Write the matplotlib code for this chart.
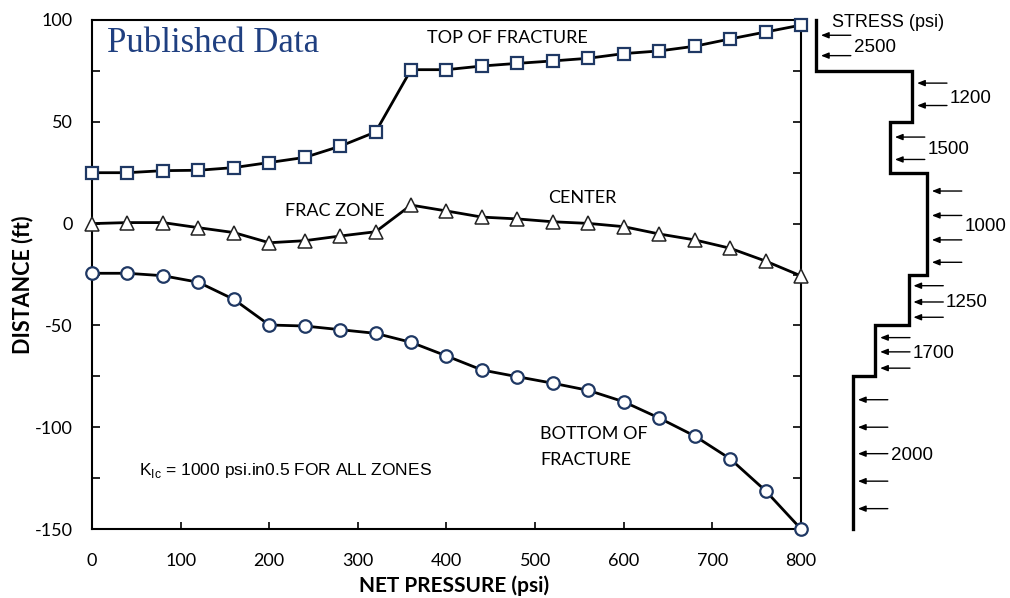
import matplotlib
matplotlib.use("Agg")
import matplotlib.pyplot as plt
from matplotlib.ticker import MultipleLocator

plt.rcParams["axes.unicode_minus"] = False

# Net pressure steps (psi)
net_pressure = [0, 40, 80, 120, 160, 200, 240, 280, 320, 360, 400,
                440, 480, 520, 560, 600, 640, 680, 720, 760, 800]

# Fracture geometry (ft)
top_of_fracture = [25, 25, 26, 26.2, 27.5, 30, 32.5, 38, 45, 75.6, 75.6,
                   77.4, 78.7, 79.9, 81.2, 83.5, 84.8, 87.1, 90.7, 94.1, 97.5]
center = [0, 0.5, 0.5, -2, -4.4, -9.4, -8.4, -6.1, -4, 9.1, 6.2,
          3.2, 2.3, 0.9, 0.1, -1.5, -5.1, -8, -12.1, -18.4, -25.7]
bottom_of_fracture = [-24.4, -24.4, -25.6, -28.8, -37.2, -49.8, -50.3, -52.1, -53.9, -58.3, -65,
                      -71.9, -75.2, -78.4, -81.9, -87.5, -95.5, -104.3, -115.5, -131.2, -150]

# Stress profile: zone boundaries (ft) and closure stress of each zone (psi)
zone_top = [100, 75, 50, 25, -25, -50, -75]
zone_bottom = [75, 50, 25, -25, -50, -75, -150]
zone_stress = [2500, 1200, 1500, 1000, 1250, 1700, 2000]
arrow_depths = [
    [92.5, 82.5],
    [69, 58],
    [42.5, 31.5],
    [16, 4, -8, -19],
    [-30.5, -38.5, -46],
    [-56, -63, -71],
    [-86.5, -100, -113, -126.5, -140],
]

CAL = ["Lato", "DejaVu Sans"]
ARIAL = ["Liberation Sans", "DejaVu Sans"]
NAVY = "#1f3864"

W, H = 1010, 598
fig = plt.figure(figsize=(W / 100, H / 100), dpi=100)

# main chart
ax = fig.add_axes([92 / W, 1 - 529 / H, (801 - 92) / W, (529 - 20) / H])
ax.set_xlim(0, 800)
ax.set_ylim(-150, 100)

line_kw = dict(color="black", lw=2.0, clip_on=False, zorder=5)
ax.plot(net_pressure, top_of_fracture, marker="s", ms=8.5, mfc="white",
        mec=NAVY, mew=1.6, **line_kw)
ax.plot(net_pressure, center, marker="^", ms=9.5, mfc="white",
        mec="#222222", mew=1.1, **line_kw)
ax.plot(net_pressure, bottom_of_fracture, marker="o", ms=9, mfc="white",
        mec=NAVY, mew=1.6, **line_kw)

for s in ax.spines.values():
    s.set_linewidth(1.5)
ax.xaxis.set_major_locator(MultipleLocator(100))
ax.yaxis.set_major_locator(MultipleLocator(50))
ax.yaxis.set_minor_locator(MultipleLocator(25))
ax.tick_params(axis="x", which="both", direction="in", length=5, width=1.2,
               pad=17, labelsize=13, top=False)
ax.tick_params(axis="y", which="both", direction="in", length=6, width=1.2,
               pad=14, labelsize=13, right=True)
for lab in ax.get_xticklabels() + ax.get_yticklabels():
    lab.set_family(CAL)

ax.set_xlabel("NET PRESSURE (psi)", family=CAL, fontsize=15, fontweight="bold")
ax.set_ylabel("DISTANCE (ft)", family=CAL, fontsize=15.5, fontweight="bold")
ax.xaxis.set_label_coords(0.511, -0.091)
ax.yaxis.set_label_coords(-0.083, 0.48)

ax.text(0.021, 0.937, "Published Data", transform=ax.transAxes,
        family=["Liberation Serif", "DejaVu Serif"], fontsize=25,
        color="#1f3f80", va="baseline", ha="left")
ax.text(378, 88.9, "TOP OF FRACTURE", family=CAL, fontsize=13, va="baseline")
ax.text(514.6, 10, "CENTER", family=CAL, fontsize=13, va="baseline")
ax.text(217.8, 3.9, "FRAC ZONE", family=CAL, fontsize=13, va="baseline")
ax.text(505.6, -105.6, "BOTTOM OF", family=CAL, fontsize=13, va="baseline")
ax.text(505.6, -118.6, "FRACTURE", family=CAL, fontsize=13, va="baseline")
ax.text(53, -123.5, r"K$_\mathregular{Ic}$ = 1000 psi.in0.5 FOR ALL ZONES",
        family=ARIAL, fontsize=12.5, va="baseline")

# stress profile panel (stress increases to the left)
ax2 = fig.add_axes([805 / W, 1 - 529 / H, (1001 - 805) / W, (529 - 20) / H])
ax2.set_xlim(2650, 0)
ax2.set_ylim(-150, 100)
ax2.axis("off")

px, py = [], []
for top, bot, s in zip(zone_top, zone_bottom, zone_stress):
    px += [s, s]
    py += [top, bot]
ax2.plot(px, py, color="black", lw=2.4, solid_joinstyle="miter", clip_on=False)

for top, bot, s, depths in zip(zone_top, zone_bottom, zone_stress, arrow_depths):
    for d in depths:
        ax2.annotate("", xy=(s, d), xytext=(25, 0), textcoords="offset points",
                     arrowprops=dict(arrowstyle="-|>,head_length=0.45,head_width=0.18",
                                     color="black", lw=1.0, shrinkA=0, shrinkB=3.5,
                                     mutation_scale=10))
    ax2.annotate(str(s), xy=(s, (top + bot) / 2), xytext=(27, -5),
                 textcoords="offset points", family=ARIAL, fontsize=13.5,
                 va="baseline", ha="left")

ax2.text(2284, 96.7, "STRESS (psi)", family=ARIAL, fontsize=13,
         va="baseline", ha="left")

fig.savefig("out.png", dpi=100)
